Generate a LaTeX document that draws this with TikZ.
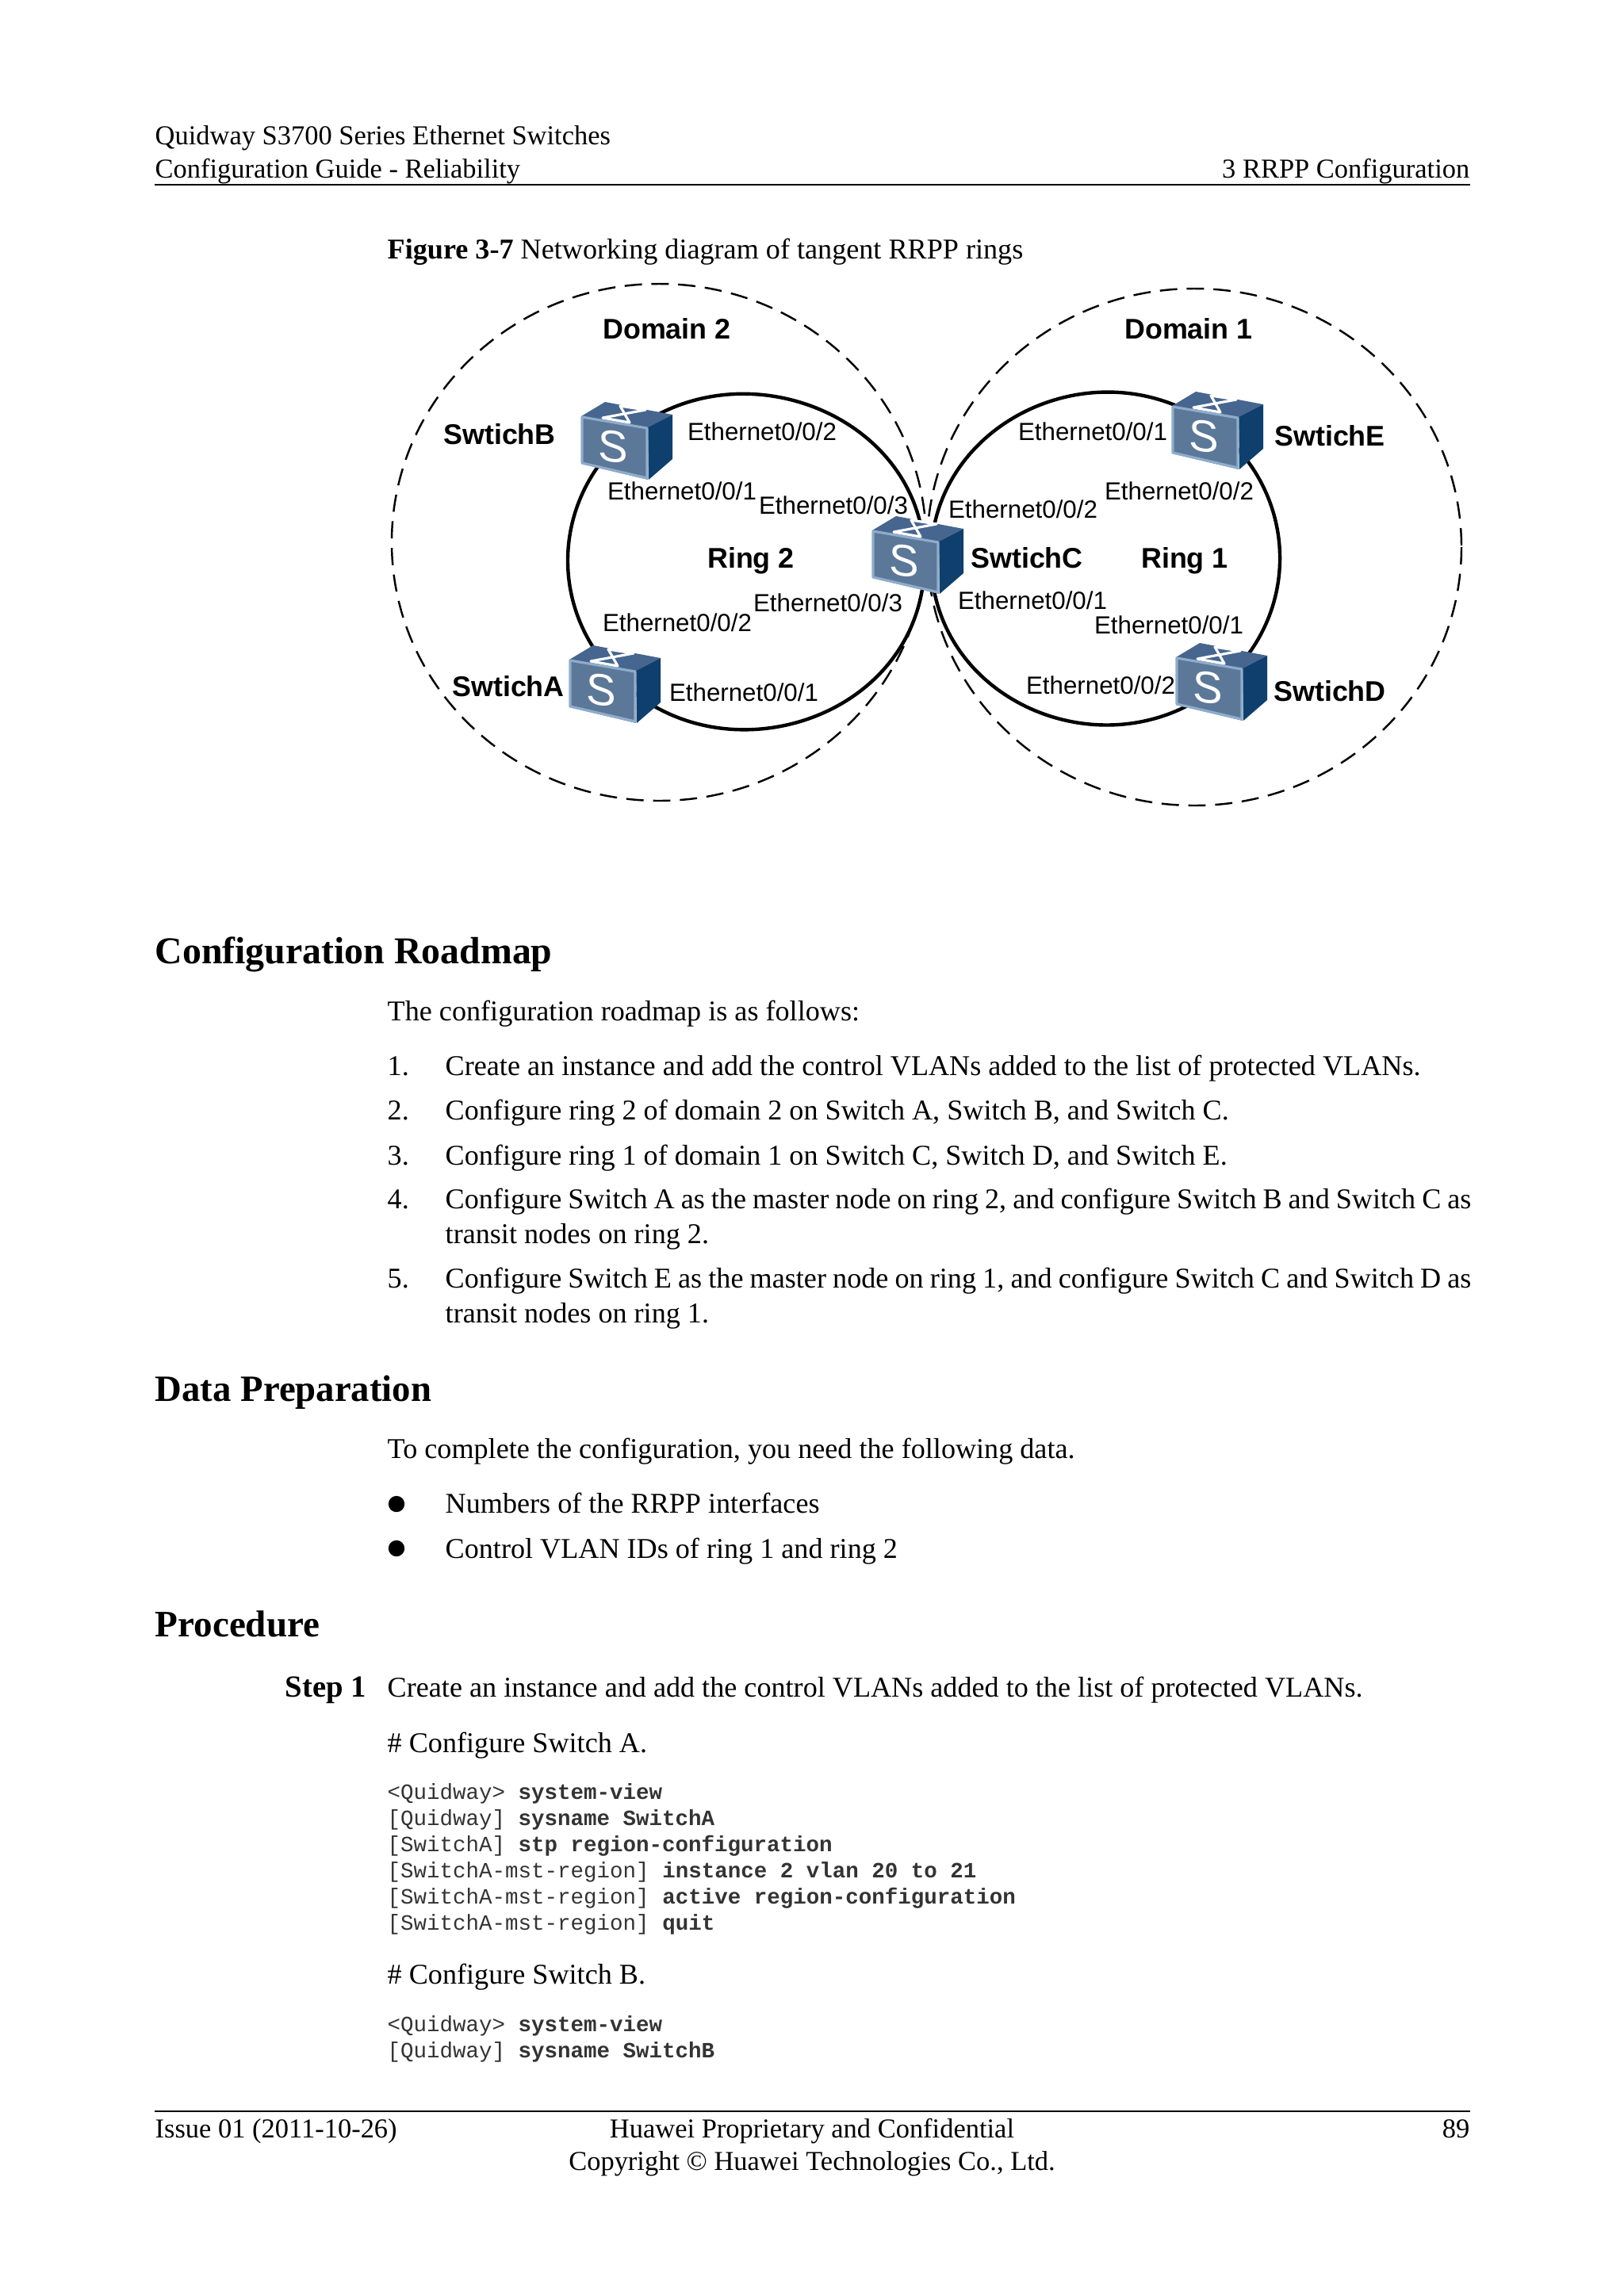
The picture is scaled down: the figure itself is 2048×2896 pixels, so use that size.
\documentclass[tikz,border=0pt]{standalone}
\usepackage{fontspec}
\setmainfont{Liberation Serif}
\setsansfont{Liberation Sans}
\setmonofont{Liberation Mono}
\usepackage{xcolor}
\usepackage{tikz}
\definecolor{swfront}{HTML}{5C7899}
\definecolor{swedge}{HTML}{8FACCB}
\definecolor{swside}{HTML}{0F3F6D}
\definecolor{swtop}{HTML}{46668F}
\tikzset{
    pagetext/.style={anchor=base west, inner sep=0pt, font=\fontsize{10.28}{12}\selectfont},
    pageside/.style={anchor=base west, inner sep=0pt, font=\fontsize{9.8}{12}\selectfont},
    pagehead/.style={anchor=base west, inner sep=0pt, font=\fontsize{13.4}{16}\selectfont\bfseries},
    codetext/.style={anchor=base west, inner sep=0pt, font=\ttfamily\fontsize{7.82}{9}\selectfont, text=black!80},
    portlabel/.style={inner sep=0pt, font=\sffamily\fontsize{8.9}{10}\selectfont},
    devlabel/.style={inner sep=0pt, font=\sffamily\bfseries\fontsize{10.2}{12}\selectfont},
    listdot/.style={circle, fill=black, inner sep=0pt, minimum size=5.8pt},
    ringline/.style={line width=1.25pt},
    domainline/.style={line width=0.7pt, dash pattern=on 6.2pt off 3.4pt},
    switchbox/.pic={
        \fill[swtop] (0,0) -- (30,-18) -- (115,-2) -- (84,14) -- cycle;
        \fill[swside] (84,14) -- (115,-2) -- (115,54) -- (85,80) -- cycle;
        \fill[swfront] (0,0) -- (84,14) -- (84,80) -- (0,60) -- cycle;
        \draw[swedge, line width=0.9pt, line join=round] (1,1) -- (83,15) -- (83,78) -- (1,59) -- cycle;
        \draw[white, line width=0.9pt, line join=round] (49,-13) -- (81,-8) -- (27,2) -- (61,8) -- cycle;
        \node[inner sep=0pt, text=white, transform shape, yslant=-0.12, font=\sffamily\fontsize{16}{16}\selectfont] (-s) at (40,38) {S};
    },
}
\begin{document}
\begin{tikzpicture}[x=0.01cm, y=-0.01cm]
    \useasboundingbox (0,0) rectangle (2048,2896);

    % Page header
    \node[pageside] (hdrone) at (195,182) {Quidway S3700 Series Ethernet Switches};
    \node[pageside] (hdrtwo) at (195,224) {Configuration Guide - Reliability};
    \node[pageside, anchor=base east] (hdrchap) at (1854,224) {3 RRPP Configuration};
    \draw[line width=0.7pt] (195,233) -- (1854,233);
    \node[pagetext] (figcap) at (488,326) {\textbf{Figure 3-7} Networking diagram of tangent RRPP rings};

    % Points where the rings pass under the switches
    \coordinate (rtwoa) at (750.2,819.9);
    \coordinate (rtwob) at (775.2,563);
    \coordinate (rtwoc) at (1166,707);
    \coordinate (ronec) at (1174,704);
    \coordinate (roned) at (1549.6,853.2);
    \coordinate (ronee) at (1526.4,535.4);

    % Domains
    \draw[domainline] (831,684) ellipse [x radius=337, y radius=326];
    \draw[domainline] (1506,690) ellipse [x radius=337, y radius=326];

    % Ring 2
    \draw[ringline] (rtwoc) .. controls (1166,921) and (870,1001.3) .. (rtwoa);
    \draw[ringline] (rtwoa) .. controls (696.6,738.7) and (706.8,633.6) .. (rtwob);
    \draw[ringline] (rtwob) .. controls (913.9,425) and (1166,517) .. (rtwoc);

    % Ring 1
    \draw[ringline] (ronee) .. controls (1633.2,612.6) and (1644.2,762.5) .. (roned);
    \draw[ringline] (roned) .. controls (1411,984) and (1174,892) .. (ronec);
    \draw[ringline] (ronec) .. controls (1174,533) and (1381.3,434) .. (ronee);

    % Switches
    \pic (swb) at (733,525) {switchbox};
    \pic (swa) at (718,832) {switchbox};
    \pic (swc) at (1100,669) {switchbox};
    \pic (swe) at (1478,512) {switchbox};
    \pic (swd) at (1483,829) {switchbox};

    % Labels of the left side
    \node[devlabel] (domtwo) at (841,415) {Domain 2};
    \node[devlabel] (nameb) at (630,548) {SwtichB};
    \node[devlabel] (namea) at (641,866) {SwtichA};
    \node[devlabel] (ringtwo) at (947,707) {Ring 2};
    \node[portlabel] (pbtwo) at (961,544) {Ethernet0/0/2};
    \node[portlabel] (pbone) at (860,619) {Ethernet0/0/1};
    \node[portlabel] (pcthreeup) at (1051,637) {Ethernet0/0/3};
    \node[portlabel] (pcthreedn) at (1044,760) {Ethernet0/0/3};
    \node[portlabel] (patwo) at (854,785) {Ethernet0/0/2};
    \node[portlabel] (paone) at (938,873) {Ethernet0/0/1};

    % Labels of the right side
    \node[devlabel] (domone) at (1499,415) {Domain 1};
    \node[devlabel] (namee) at (1677,550) {SwtichE};
    \node[devlabel] (namec) at (1295,704) {SwtichC};
    \node[devlabel] (ringone) at (1494,707) {Ring 1};
    \node[devlabel] (named) at (1677,872) {SwtichD};
    \node[portlabel] (peone) at (1378,544) {Ethernet0/0/1};
    \node[portlabel] (petwo) at (1487,619) {Ethernet0/0/2};
    \node[portlabel] (pctwo) at (1290,642) {Ethernet0/0/2};
    \node[portlabel] (pcone) at (1302,757) {Ethernet0/0/1};
    \node[portlabel] (pdone) at (1474,788) {Ethernet0/0/1};
    \node[portlabel] (pdtwo) at (1388,864) {Ethernet0/0/2};

    % Configuration Roadmap
    \node[pagehead, font=\fontsize{13.6}{16}\selectfont\bfseries] (roadhead) at (195,1215) {Configuration Roadmap};
    \node[pagetext] (roadintro) at (488,1287) {The configuration roadmap is as follows:};
    \node[pagetext] (numone) at (488,1356) {1.};
    \node[pagetext] (itemone) at (561,1356) {Create an instance and add the control VLANs added to the list of protected VLANs.};
    \node[pagetext] (numtwo) at (488,1412) {2.};
    \node[pagetext] (itemtwo) at (561,1412) {Configure ring 2 of domain 2 on Switch A, Switch B, and Switch C.};
    \node[pagetext] (numthree) at (488,1469) {3.};
    \node[pagetext] (itemthree) at (561,1469) {Configure ring 1 of domain 1 on Switch C, Switch D, and Switch E.};
    \node[pagetext] (numfour) at (488,1524) {4.};
    \node[pagetext] (itemfour) at (561,1524) {\makebox[12.93cm][s]{Configure Switch A as the master node on ring 2, and configure Switch B and Switch C as}};
    \node[pagetext] (itemfourb) at (561,1568) {transit nodes on ring 2.};
    \node[pagetext] (numfive) at (488,1624) {5.};
    \node[pagetext] (itemfive) at (561,1624) {\makebox[12.93cm][s]{Configure Switch E as the master node on ring 1, and configure Switch C and Switch D as}};
    \node[pagetext] (itemfiveb) at (561,1668) {transit nodes on ring 1.};

    % Data Preparation
    \node[pagehead, font=\fontsize{13.3}{16}\selectfont\bfseries] (datahead) at (195,1767) {Data Preparation};
    \node[pagetext] (dataintro) at (488,1839) {To complete the configuration, you need the following data.};
    \node[listdot] (dotone) at (500,1897) {};
    \node[pagetext] (dataone) at (561,1908) {Numbers of the RRPP interfaces};
    \node[listdot] (dottwo) at (500,1953) {};
    \node[pagetext] (datatwo) at (561,1965) {Control VLAN IDs of ring 1 and ring 2};

    % Procedure
    \node[pagehead] (prochead) at (195,2064) {Procedure};
    \node[pagetext, font=\fontsize{11}{12}\selectfont] (steplabel) at (359,2140) {\textbf{Step 1}};
    \node[pagetext] (steptext) at (488,2140) {Create an instance and add the control VLANs added to the list of protected VLANs.};
    \node[pagetext] (cfga) at (488,2210) {\# Configure Switch A.};
    \node[codetext] (cfgaone) at (488,2269) {<Quidway> \textbf{system-view}};
    \node[codetext] (cfgatwo) at (488,2302) {[Quidway] \textbf{sysname SwitchA}};
    \node[codetext] (cfgathree) at (488,2335) {[SwitchA] \textbf{stp region-configuration}};
    \node[codetext] (cfgafour) at (488,2368) {[SwitchA-mst-region] \textbf{instance 2 vlan 20 to 21}};
    \node[codetext] (cfgafive) at (488,2401) {[SwitchA-mst-region] \textbf{active region-configuration}};
    \node[codetext] (cfgasix) at (488,2434) {[SwitchA-mst-region] \textbf{quit}};
    \node[pagetext] (cfgb) at (488,2502) {\# Configure Switch B.};
    \node[codetext] (cfgbone) at (488,2562) {<Quidway> \textbf{system-view}};
    \node[codetext] (cfgbtwo) at (488,2595) {[Quidway] \textbf{sysname SwitchB}};

    % Page footer
    \draw[line width=0.7pt] (195,2663) -- (1854,2663);
    \node[pageside] (ftrissue) at (195,2696) {Issue 01 (2011-10-26)};
    \node[pageside, anchor=base] (ftrconf) at (1024,2696) {Huawei Proprietary and Confidential};
    \node[pageside, anchor=base east] (ftrpage) at (1854,2696) {89};
    \node[pageside, anchor=base] (ftrcopy) at (1024,2737) {Copyright © Huawei Technologies Co., Ltd.};
\end{tikzpicture}
\end{document}
